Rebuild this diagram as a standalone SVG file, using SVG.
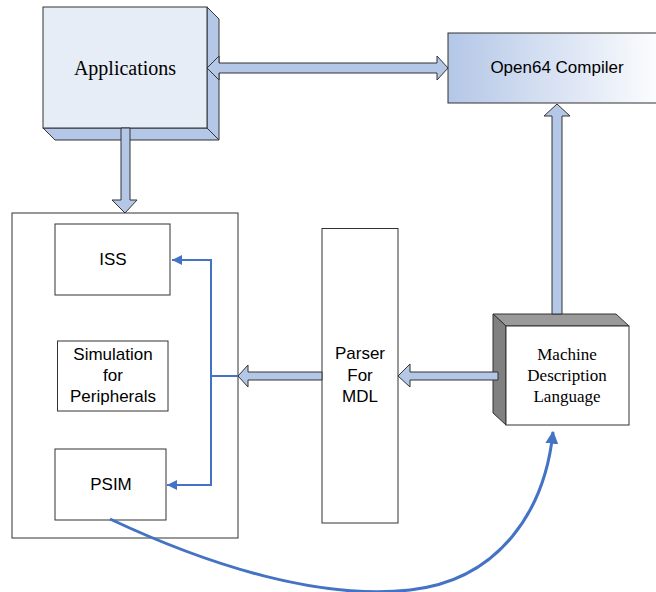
<svg xmlns="http://www.w3.org/2000/svg" width="656" height="592" viewBox="0 0 656 592">
  <style>
    .box { fill: #ffffff; stroke: #333333; stroke-width: 1; }
    .sans { font-family: "Liberation Sans", Arial, sans-serif; font-size: 17px; fill: #000000; text-anchor: middle; }
    .serif { font-family: "Liberation Serif", "Times New Roman", serif; fill: #000000; text-anchor: middle; }
    .block { fill: #b4c7e7; stroke: #333333; stroke-width: 1; stroke-linejoin: miter; }
    .wire { fill: none; stroke: #4472c4; stroke-width: 2; }
    .curve { fill: none; stroke: #4472c4; stroke-width: 3; }
  </style>
  <defs>
    <linearGradient id="compilerFill" x1="0" y1="0" x2="1" y2="0">
      <stop offset="0" stop-color="#b4c7e7"/>
      <stop offset="1" stop-color="#ffffff"/>
    </linearGradient>
    <marker id="tip" viewBox="0 0 10 10" refX="10" refY="5" markerWidth="10" markerHeight="10" markerUnits="userSpaceOnUse" orient="auto">
      <path d="M0,0 L10,5 L0,10 Z" fill="#4472c4"/>
    </marker>
    <marker id="tipBig" viewBox="0 0 10 10" refX="9" refY="5" markerWidth="13" markerHeight="13" markerUnits="userSpaceOnUse" orient="auto">
      <path d="M0,0 L10,5 L0,10 Z" fill="#4472c4"/>
    </marker>
  </defs>

  <!-- Applications: raised block -->
  <g id="applications">
    <polygon points="207,7 219,19 219,140 207,128" fill="#b4c7e7" stroke="#333333" stroke-width="1"/>
    <polygon points="43,128 207,128 219,140 55,140" fill="#b4c7e7" stroke="#333333" stroke-width="1"/>
    <rect x="43" y="7" width="164" height="121" fill="#e7edf7" stroke="#333333" stroke-width="1"/>
    <text class="serif" x="125" y="75" font-size="20">Applications</text>
  </g>

  <!-- Open64 Compiler -->
  <g id="compiler">
    <rect x="448" y="33" width="220" height="70" fill="url(#compilerFill)" stroke="#333333" stroke-width="1"/>
    <text class="sans" x="557" y="73">Open64 Compiler</text>
  </g>

  <!-- Simulator container with its parts -->
  <g id="simulator">
    <rect class="box" x="12" y="213" width="226" height="325"/>
  </g>
  <g id="iss">
    <rect class="box" x="55" y="224" width="115" height="71"/>
    <text class="sans" x="113" y="265">ISS</text>
  </g>
  <g id="peripherals">
    <rect class="box" x="57.5" y="341" width="110.5" height="70"/>
    <text class="sans" x="113" y="360">Simulation</text>
    <text class="sans" x="113" y="381">for</text>
    <text class="sans" x="113" y="402">Peripherals</text>
  </g>
  <g id="psim">
    <rect class="box" x="55" y="449" width="111" height="71"/>
    <text class="sans" x="111" y="490">PSIM</text>
  </g>

  <!-- Parser for MDL -->
  <g id="parser">
    <rect class="box" x="322" y="228.5" width="76" height="294.5"/>
    <text class="sans" x="360" y="359">Parser</text>
    <text class="sans" x="360" y="381">For</text>
    <text class="sans" x="360" y="402">MDL</text>
  </g>

  <!-- Machine Description Language: recessed block -->
  <g id="mdl">
    <polygon points="493,314 616,314 629,326 506,326" fill="#9a9a9a" stroke="#333333" stroke-width="1"/>
    <polygon points="493,314 506,326 506,425 493,413" fill="#808080" stroke="#333333" stroke-width="1"/>
    <rect x="506" y="326" width="123" height="99" fill="#ffffff" stroke="#333333" stroke-width="1"/>
    <text class="serif" x="567" y="360" font-size="17">Machine</text>
    <text class="serif" x="567" y="381" font-size="17">Description</text>
    <text class="serif" x="567" y="402" font-size="17">Language</text>
  </g>

  <!-- Connectors -->
  <g id="connectors">
    <!-- Applications <-> compiler -->
    <path class="block" d="M207,68 L219,56 L219,63 L437,63 L437,56 L448,68 L437,80 L437,73 L219,73 L219,80 Z"/>
    <!-- Applications -> simulator -->
    <path class="block" d="M121,128 L130,128 L130,200 L137,200 L125,213 L112,200 L121,200 Z"/>
    <!-- MDL -> compiler -->
    <path class="block" d="M552,314 L552,116 L544,116 L557,104 L570,116 L562,116 L562,314 Z"/>
    <!-- MDL -> parser -->
    <path class="block" d="M498,372 L410,372 L410,364 L398,376 L410,387 L410,380 L498,380 Z"/>
    <!-- parser -> simulator -->
    <path class="block" d="M322,372 L248,372 L248,365 L238,376 L248,387 L248,380 L322,380 Z"/>

    <!-- fan-out inside the simulator -->
    <path class="wire" d="M238,376 L211,376"/>
    <path class="wire" d="M211,376 L211,260 L172,260" marker-end="url(#tip)"/>
    <path class="wire" d="M211,376 L211,485 L167,485" marker-end="url(#tip)"/>

    <!-- PSIM feedback to MDL -->
    <path class="curve" d="M110,519 C210,566 320,600 410,590 C500,580 545,510 553,432" marker-end="url(#tipBig)"/>
  </g>
</svg>
